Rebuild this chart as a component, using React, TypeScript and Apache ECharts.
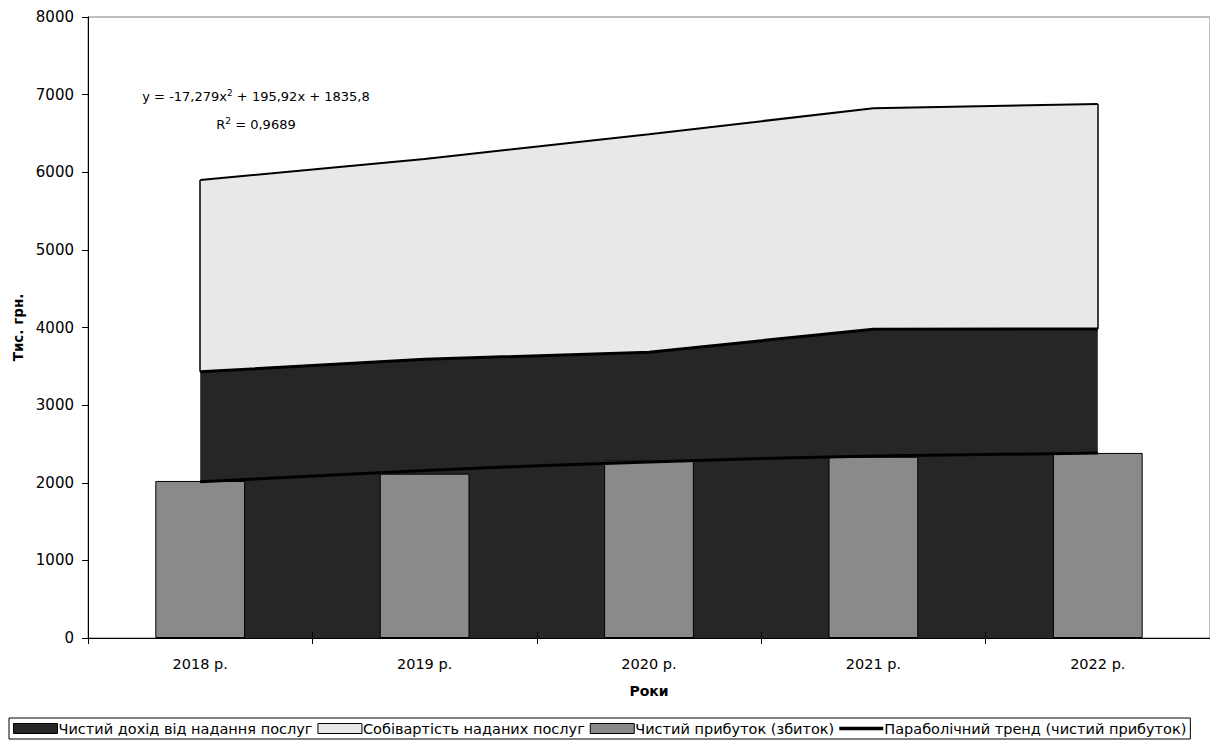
import React, { useEffect, useRef } from "react";
import * as echarts from "echarts";

const categories = ["2018 р.", "2019 р.", "2020 р.", "2021 р.", "2022 р."];
const seriesNames = ["Чистий дохід від надання послуг", "Собівартість наданих послуг", "Чистий прибуток (збиток)", "Параболічний тренд (чистий прибуток)"];
const costTop = [5900, 6170, 6490, 6825, 6880];
const revenueTop = [3430, 3590, 3682, 3978, 3982];
const profit = [2023, 2117, 2285, 2335, 2384];
const trend = [2014, 2158, 2268, 2343, 2383];
const yTicks = { min: 0, max: 8000, interval: 1000 };

const FONT = "'DejaVu Sans', 'Liberation Sans', sans-serif";

export default function App() {
  const ref = useRef<HTMLDivElement>(null);
  useEffect(() => {
    if (!ref.current) return;
    const chart = echarts.init(ref.current, null, { renderer: "svg" });
    const last = categories.length - 1;
    const costEdges = [
      [{ coord: [categories[0], revenueTop[0]] }, { coord: [categories[0], costTop[0]] }],
      [{ coord: [categories[last], revenueTop[last]] }, { coord: [categories[last], costTop[last]] }],
    ];
    chart.setOption({
      animation: false,
      textStyle: { fontFamily: FONT },
      grid: { left: 88, right: 0, top: 17, bottom: 106, show: true, borderColor: "#808080", borderWidth: 1, backgroundColor: "#fff" },
      xAxis: [
        {
          type: "category",
          data: categories,
          boundaryGap: true,
          name: "Роки",
          nameLocation: "middle",
          nameGap: 46,
          nameTextStyle: { fontFamily: FONT, fontSize: 14, fontWeight: "bold", color: "#000" },
          axisLine: { lineStyle: { color: "#000", width: 1 } },
          axisTick: { show: true, length: 6, lineStyle: { color: "#000" }, interval: 0 },
          axisLabel: { fontFamily: FONT, fontSize: 14.5, color: "#000", margin: 18, interval: 0 },
          splitLine: { show: false },
          z: 10,
        },
        {
          type: "category",
          data: categories,
          position: "bottom",
          boundaryGap: true,
          axisLine: { show: false },
          axisTick: { show: true, inside: true, length: 6, lineStyle: { color: "#000" }, interval: 0 },
          axisLabel: { show: false },
          splitLine: { show: false },
          z: 10,
        },
      ],
      yAxis: {
        type: "value",
        min: yTicks.min,
        max: yTicks.max,
        interval: yTicks.interval,
        name: "Тис. грн.",
        nameLocation: "middle",
        nameGap: 62,
        nameTextStyle: { fontFamily: FONT, fontSize: 13.5, fontWeight: "bold", color: "#000" },
        axisLine: { show: true, lineStyle: { color: "#000", width: 1 } },
        axisTick: { show: true, length: 6, lineStyle: { color: "#000" } },
        axisLabel: { fontFamily: FONT, fontSize: 15, color: "#000", margin: 14, formatter: (v: number) => String(v) },
        splitLine: { show: false },
        z: 10,
      },
      legend: {
        left: 9,
        top: 718,
        padding: [3, 4, 3, 4],
        itemGap: 5,
        itemWidth: 44,
        itemHeight: 10,
        borderColor: "#000",
        borderWidth: 1,
        textStyle: { fontFamily: FONT, fontSize: 14.5, color: "#000", padding: [0, 0, 0, -4] },
        data: [
          { name: seriesNames[0], icon: "rect", itemStyle: { color: "#262626", borderColor: "#000", borderWidth: 1 } },
          { name: seriesNames[1], icon: "rect", itemStyle: { color: "#e8e8e8", borderColor: "#000", borderWidth: 1 } },
          { name: seriesNames[2], icon: "rect", itemStyle: { color: "#8a8a8a", borderColor: "#000", borderWidth: 1 } },
          { name: seriesNames[3], icon: "path://M0,0H40V3H0Z", itemStyle: { color: "#000", borderWidth: 0 } },
        ],
      },
      graphic: [
        {
          type: "text",
          x: 256,
          y: 96,
          z: 100,
          style: {
            text: "{a|y = -17,279x}{s|2}{a| + 195,92x + 1835,8}",
            align: "center",
            verticalAlign: "middle",
            rich: {
              a: { fontFamily: FONT, fontSize: 13, color: "#000", lineHeight: 16 },
              s: { fontFamily: FONT, fontSize: 9, color: "#000", lineHeight: 9, verticalAlign: "top" },
            },
          },
        },
        {
          type: "text",
          x: 256,
          y: 124,
          z: 100,
          style: {
            text: "{a|R}{s|2}{a| = 0,9689}",
            align: "center",
            verticalAlign: "middle",
            rich: {
              a: { fontFamily: FONT, fontSize: 13, color: "#000", lineHeight: 16 },
              s: { fontFamily: FONT, fontSize: 9, color: "#000", lineHeight: 9, verticalAlign: "top" },
            },
          },
        },
      ],
      series: [
        {
          name: seriesNames[1],
          type: "line",
          data: costTop,
          z: 1,
          symbol: "none",
          lineStyle: { color: "#000", width: 2 },
          itemStyle: { color: "#e8e8e8" },
          areaStyle: { color: "#e8e8e8", opacity: 1 },
          markLine: {
            silent: true,
            symbol: "none",
            label: { show: false },
            lineStyle: { color: "#000", width: 1.5, type: "solid" },
            data: costEdges,
          },
        },
        {
          name: seriesNames[0],
          type: "line",
          data: revenueTop,
          z: 2,
          symbol: "none",
          lineStyle: { color: "#000", width: 3 },
          itemStyle: { color: "#262626" },
          areaStyle: { color: "#262626", opacity: 1 },
        },
        {
          name: seriesNames[2],
          type: "bar",
          data: profit,
          z: 3,
          barWidth: "40%",
          itemStyle: { color: "#8a8a8a", borderColor: "#000", borderWidth: 1 },
        },
        {
          name: seriesNames[3],
          type: "line",
          data: trend,
          z: 4,
          smooth: true,
          symbol: "none",
          lineStyle: { color: "#000", width: 3 },
          itemStyle: { color: "#000" },
        },
      ],
    });
    return () => chart.dispose();
  }, []);
  return <div ref={ref} style={{ position: "fixed", left: 0, top: 0, width: 1210, height: 744, background: "#fff" }} />;
}
